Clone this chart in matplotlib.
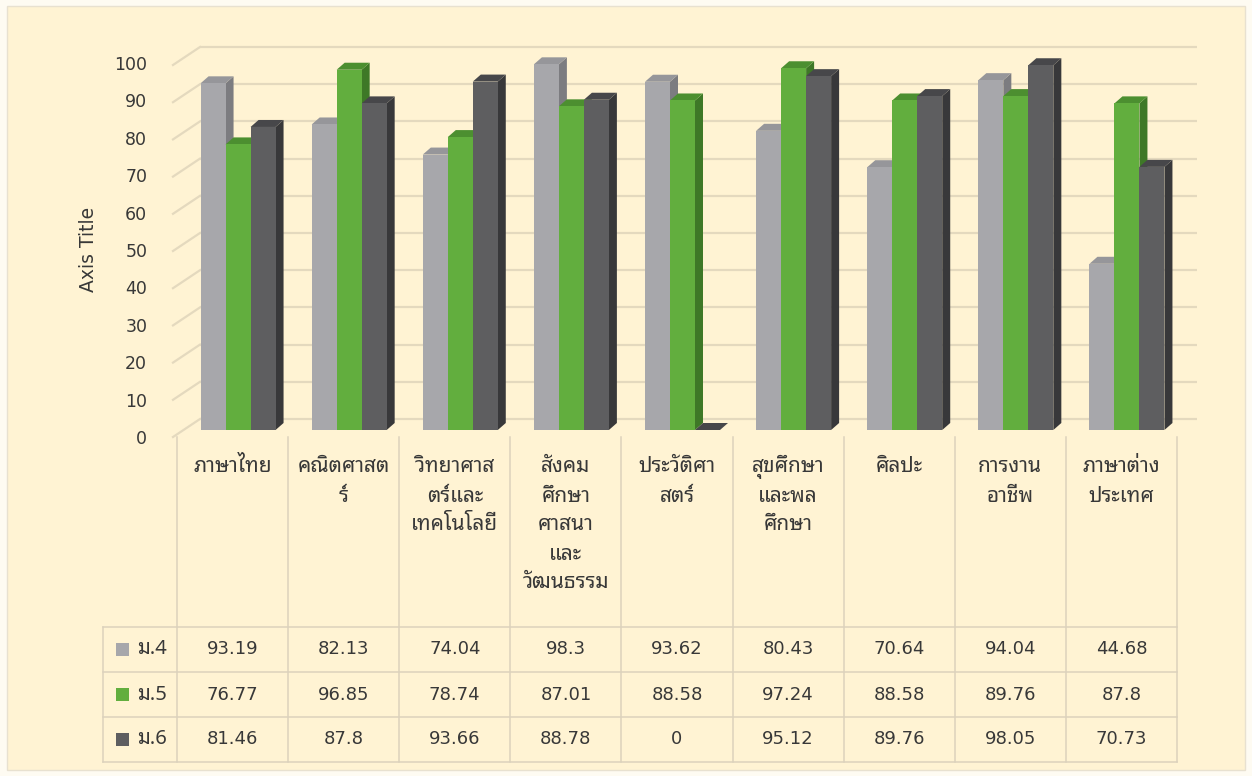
import matplotlib
matplotlib.use("Agg")
import matplotlib.pyplot as plt
from matplotlib.patches import Polygon, Rectangle

# ---------------- data ----------------
categories = [
    "ภาษาไทย",
    "คณิตศาสต\nร์",
    "วิทยาศาส\nตร์และ\nเทคโนโลยี",
    "สังคม\nศึกษา\nศาสนา\nและ\nวัฒนธรรม",
    "ประวัติศา\nสตร์",
    "สุขศึกษา\nและพล\nศึกษา",
    "ศิลปะ",
    "การงาน\nอาชีพ",
    "ภาษาต่าง\nประเทศ",
]
series_names = ["ม.4", "ม.5", "ม.6"]
m4 = [93.19, 82.13, 74.04, 98.3, 93.62, 80.43, 70.64, 94.04, 44.68]
m5 = [76.77, 96.85, 78.74, 87.01, 88.58, 97.24, 88.58, 89.76, 87.8]
m6 = [81.46, 87.8, 93.66, 88.78, 0, 95.12, 89.76, 98.05, 70.73]
y_ticks = list(range(0, 101, 10))
y_title = "Axis Title"

# ---------------- style ----------------
W, H = 1252, 776
FONT = ["DejaVu Sans", "Noto Sans Thai Looped"]
THAI = ["Noto Sans Thai Looped", "DejaVu Sans"]
plt.rcParams["font.family"] = FONT
TXT = "#383838"
BG = "#FFF3D3"
GRID = "#E4D9BE"
TAB = "#DCD2BC"
front_cols = ["#A7A7AB", "#62AE3E", "#5E5E60"]
side_cols = ["#7C7C80", "#3E7827", "#38383A"]
top_cols = ["#96969A", "#4C8F30", "#47474A"]

fig = plt.figure(figsize=(W / 100, H / 100), dpi=100)
fig.patch.set_facecolor("#FEFBF2")

# full-figure pixel overlay for frame + table
tab = fig.add_axes([0, 0, 1, 1])
tab.set_xlim(0, W)
tab.set_ylim(H, 0)
tab.axis("off")
tab.add_patch(Rectangle((7, 6), 1238, 764, facecolor=BG, edgecolor="#E8E1D0", lw=1, zorder=0))

# bar-plane axes: x = category index, y = value
px0, px1 = 182.5, 1182.5       # x=-0.5 .. 8.5
py0, ppu = 430.0, 3.72          # baseline pixel row, pixels per unit
ax = fig.add_axes([px0 / W, (H - py0) / H, (px1 - px0) / W, 100 * ppu / H])
ax.set_xlim(-0.5, len(categories) - 0.5)
ax.set_ylim(0, 100)
ax.axis("off")
ax.patch.set_alpha(0)
unit_x = (px1 - px0) / len(categories)

# back wall gridlines and the diagonals to the front plane
wall_dx, wall_dy = (200 - px0) / unit_x - 0.5, 11 / ppu
wall_right = (1197 - px0) / unit_x - 0.5
front_dx, front_dy = (173 - px0) / unit_x - 0.5, -7 / ppu
for v in y_ticks:
    ax.plot([wall_dx, wall_right], [v + wall_dy, v + wall_dy], color=GRID, lw=1.6,
            zorder=1, clip_on=False, solid_capstyle="butt")
    ax.plot([front_dx, wall_dx], [v + front_dy, v + wall_dy], color=GRID, lw=1.6,
            zorder=1, clip_on=False)

# 3-D looking bars
bw = 0.225
dxd, dyd = 8 / unit_x, 7 / ppu
series = [m4, m5, m6]
for i in range(len(categories)):
    for j, vals in enumerate(series):
        z = 10 + i * 3 + j
        xc = i + (j - 1) * bw
        v = vals[i]
        xl, xr = xc - bw / 2, xc + bw / 2
        ax.add_patch(Polygon([(xr, 0), (xr + dxd, dyd), (xr + dxd, v + dyd), (xr, v)],
                             closed=True, facecolor=side_cols[j], edgecolor="none",
                             zorder=z, clip_on=False))
        ax.add_patch(Polygon([(xl, v), (xr, v), (xr + dxd, v + dyd), (xl + dxd, v + dyd)],
                             closed=True, facecolor=top_cols[j], edgecolor="none",
                             zorder=z, clip_on=False))
        ax.bar([xc], [v], width=bw, color=front_cols[j], zorder=z, clip_on=False,
               linewidth=0)

# front-plane axis with tick labels
fa = fig.add_axes([175 / W, (H - 437) / H, 1000 / W, 100 * 3.74 / H])
fa.set_ylim(0, 100)
fa.set_yticks(y_ticks)
fa.set_yticklabels([str(t) for t in y_ticks], fontsize=12.5, color=TXT)
fa.tick_params(axis="y", length=0, pad=20)
fa.set_xticks([])
for s in fa.spines.values():
    s.set_visible(False)
fa.patch.set_alpha(0)
fig.text(88 / W, 1 - 249 / H, y_title, rotation=90, ha="center", va="center",
         fontsize=13.5, color=TXT)

# ---------------- data table ----------------
col_x0, col_w = 177.0, 1000.0 / len(categories)
tab_left, tab_right = 103, col_x0 + col_w * len(categories)
head_top, row_top, row_h = 437, 627, 45
n_rows = len(series)
for k in range(len(categories) + 1):
    x = col_x0 + k * col_w
    tab.plot([x, x], [head_top, row_top + n_rows * row_h], color=TAB, lw=1.1, zorder=2)
tab.plot([tab_left, tab_left], [row_top, row_top + n_rows * row_h], color=TAB, lw=1.1, zorder=2)
for r in range(n_rows + 1):
    y = row_top + r * row_h
    tab.plot([tab_left, tab_right], [y, y], color=TAB, lw=1.1, zorder=2)

# category headers
for i, name in enumerate(categories):
    cx = col_x0 + (i + 0.5) * col_w
    for li, line in enumerate(name.split("\n")):
        tab.text(cx, 467 + li * 29, line, ha="center", va="center", fontsize=15,
                 color=TXT, family=THAI, fontweight="medium")

# rows
for r, (nm, vals) in enumerate(zip(series_names, series)):
    cy = row_top + (r + 0.5) * row_h
    tab.add_patch(Rectangle((116, cy - 6.5), 13, 13, facecolor=front_cols[r],
                            edgecolor="none", zorder=3))
    tab.text(137, cy, nm, ha="left", va="center", fontsize=14.5, color=TXT, family=THAI,
             fontweight="medium")
    for i, v in enumerate(vals):
        cx = col_x0 + (i + 0.5) * col_w
        tab.text(cx, cy, f"{v:g}", ha="center", va="center", fontsize=13, color=TXT)

fig.savefig("out.png", dpi=100, facecolor=fig.get_facecolor())
